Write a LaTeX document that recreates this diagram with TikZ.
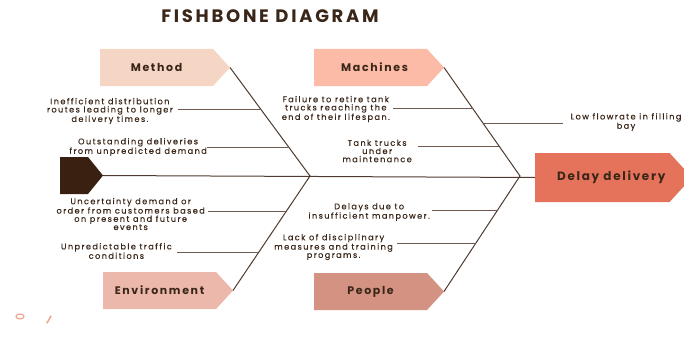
\documentclass[tikz,border=0pt]{standalone}
\usepackage{fontspec}
\setmainfont{Poppins}
\usetikzlibrary{shapes.symbols}

\definecolor{ink}{HTML}{3A2618}
\definecolor{bonecol}{HTML}{4E3A2E}
\definecolor{twigcol}{HTML}{6E5A4E}
\definecolor{methodcol}{HTML}{F5D6C4}
\definecolor{machinecol}{HTML}{FBBBA6}
\definecolor{envcol}{HTML}{ECB8AB}
\definecolor{peoplecol}{HTML}{D39282}
\definecolor{delaycol}{HTML}{E5735C}
\definecolor{headcol}{HTML}{3A2010}
\definecolor{strokecol}{HTML}{F0A48E}

\tikzset{
  cat/.style={signal, signal to=east, signal pointer angle=95, anchor=west,
    minimum width=130pt, minimum height=37pt, inner sep=0pt, outer sep=0pt,
    text=ink, font=\fontsize{11}{13}\selectfont\bfseries\addfontfeatures{LetterSpace=15}},
  cause/.style={align=center, inner sep=0pt, text=ink,
    font=\fontsize{8.2}{8.2}\selectfont\addfontfeatures{LetterSpace=17,FakeBold=0.4}},
  bone/.style={draw=bonecol, line width=1pt},
  twig/.style={draw=twigcol, line width=0.9pt}
}

\begin{document}
\begin{tikzpicture}[x=1pt,y=-1pt]
\useasboundingbox (0,0) rectangle (684,345);

% title
\node[text=ink, font=\fontsize{18}{20}\selectfont\bfseries\addfontfeatures{LetterSpace=15}] (title) at (270,16) {FISHBONE DIAGRAM};

% category boxes
\node[cat, fill=methodcol] (meth) at (100,67.5) {Method};
\node[cat, fill=machinecol] (mach) at (314,67.5) {\hspace{8pt}Machines};
\node[cat, fill=envcol] (env) at (103,290.5) {Environment};
\node[cat, fill=peoplecol] (peop) at (314,291.5) {People};
\node[cat, fill=delaycol, minimum width=157pt, minimum height=49pt,
  font=\fontsize{12}{14}\selectfont\bfseries\addfontfeatures{LetterSpace=14}] (delay) at (535,177.5) {\hspace{18pt}Delay delivery};
\node[cat, fill=headcol, minimum width=43pt, signal pointer angle=102] (head) at (60,175.5) {};

% spine and joints
\coordinate (j1) at (310,176);
\coordinate (j2) at (520,176);
\draw[bone] (head.east) -- (delay.west);
\draw[bone] (meth.east) -- (j1) -- (env.east);
\draw[bone] (mach.east) -- (j2) -- (peop.east);

% points on the bones
\path (meth.east) -- (j1) coordinate[pos=0.39] (m1) coordinate[pos=0.74] (m2);
\path (mach.east) -- (j2) coordinate[pos=0.38] (m3) coordinate[pos=0.52] (m4) coordinate[pos=0.73] (m5);
\path (j1) -- (env.east) coordinate[pos=0.31] (m6) coordinate[pos=0.67] (m7);
\path (j2) -- (peop.east) coordinate[pos=0.30] (m8) coordinate[pos=0.58] (m9);

% causes
\node[cause, anchor=east] (t1) at (173,111) {Inefficient distribution\\routes leading to longer\\delivery times.};
\node[cause, anchor=east] (t2) at (207,147) {Outstanding deliveries\\from unpredicted demand};
\node[cause, anchor=east] (t3) at (390,109) {Failure to retire tank\\trucks reaching the\\end of their lifespan.};
\node[cause] (t4) at (626,122) {Low flowrate in filling\\bay};
\node[cause, anchor=east] (t5) at (412,151) {Tank trucks\\under\\maintenance};
\node[cause, anchor=east] (t6) at (205,214) {Uncertainty demand or\\order from customers based\\on present and future\\events};
\node[cause, anchor=east] (t7) at (172,251) {Unpredictable traffic\\conditions};
\node[cause, anchor=east] (t8) at (430,212) {Delays due to\\insufficient manpower.};
\node[cause, anchor=east] (t9) at (393,247) {Lack of disciplinary\\measures and training\\programs.};

\draw[twig, shorten <=5pt] (m1 -| t1.east) -- (m1);
\draw[twig] (m2 -| t2.east) -- (m2);
\draw[twig, shorten <=3pt] (m3 -| t3.east) -- (m3);
\draw[twig, shorten <=7pt] (m4 -| t4.west) -- (m4);
\draw[twig, shorten <=6pt] (m5 -| t5.east) -- (m5);
\draw[twig, shorten <=3pt] (m6 -| t6.east) -- (m6);
\draw[twig, shorten <=5pt] (m7 -| t7.east) -- (m7);
\draw[twig, shorten <=2pt] (m8 -| t8.east) -- (m8);
\draw[twig, shorten <=4pt] (m9 -| t9.east) -- (m9);

% stray marks
\draw[strokecol, line width=1.2pt] (20,316.5) ellipse (4pt and 2.5pt);
\draw[strokecol, line width=1.5pt, line cap=round] (47,323) -- (51,316);
\end{tikzpicture}
\end{document}
